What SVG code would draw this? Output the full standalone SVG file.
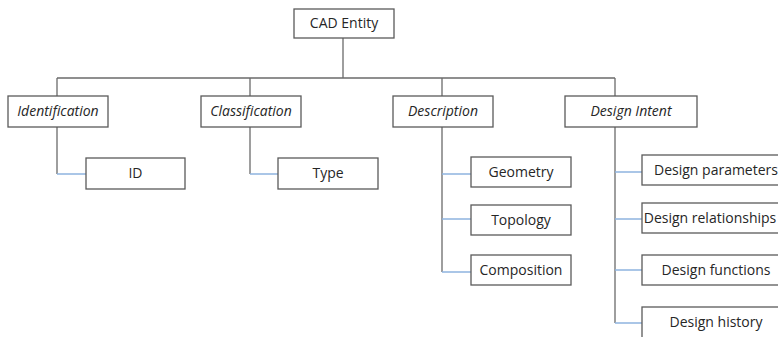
<svg xmlns="http://www.w3.org/2000/svg" width="778" height="337" viewBox="0 0 778 337">
<style>
.box{fill:#fff;stroke:#5a5a5a;stroke-width:1.3}
.t{font-family:"Open Sans","Liberation Sans",sans-serif;font-size:14px;fill:#262626;text-anchor:middle}
.i{font-style:italic}
.ln{fill:none;stroke:#6b6b6b;stroke-width:1.3}
.bl{fill:none;stroke:#8fb4e0;stroke-width:1.3}
</style>
<rect width="778" height="337" fill="#fff"/>
<g id="connectors">
<path class="ln" d="M343 38V78M57 78H615M57 78V96M250 78V96M442 78V96M615 78V97"/>
<path class="ln" d="M57 127V174M250 127V174M442 127V272M615 127V323"/>
<path class="bl" d="M57 174H86M250 174H278M442 174H471M442 219H471M442 272H471M615 172H642M615 219H642M615 270H642M615 323H642"/>
</g>
<g id="cad-entity"><rect class="box" x="294" y="9" width="100" height="29"/><text class="t" x="344" y="28">CAD Entity</text></g>
<g id="identification"><rect class="box" x="8" y="96" width="100" height="31"/><text class="t i" x="58" y="116">Identification</text></g>
<g id="classification"><rect class="box" x="201" y="96" width="100" height="31"/><text class="t i" x="251" y="116">Classification</text></g>
<g id="description"><rect class="box" x="393" y="96" width="100" height="31"/><text class="t i" x="443" y="116">Description</text></g>
<g id="design-intent"><rect class="box" x="565" y="96" width="132" height="31"/><text class="t i" x="631" y="116">Design Intent</text></g>
<g id="id"><rect class="box" x="86" y="158" width="99" height="31"/><text class="t" x="135.5" y="178">ID</text></g>
<g id="type"><rect class="box" x="278" y="158" width="100" height="31"/><text class="t" x="328" y="178">Type</text></g>
<g id="geometry"><rect class="box" x="471" y="157" width="100" height="30"/><text class="t" x="521" y="177">Geometry</text></g>
<g id="topology"><rect class="box" x="471" y="205" width="100" height="30"/><text class="t" x="521" y="225">Topology</text></g>
<g id="composition"><rect class="box" x="471" y="255" width="100" height="30"/><text class="t" x="521" y="275">Composition</text></g>
<g id="design-parameters"><rect class="box" x="642" y="155" width="150" height="30"/><text class="t" x="716" y="175">Design parameters</text></g>
<g id="design-relationships"><rect class="box" x="642" y="203" width="150" height="30"/><text class="t" x="710" y="223" font-size="13">Design relationships</text></g>
<g id="design-functions"><rect class="box" x="642" y="255" width="150" height="30"/><text class="t" x="716" y="275">Design functions</text></g>
<g id="design-history"><rect class="box" x="642" y="307" width="150" height="34"/><text class="t" x="716" y="327">Design history</text></g>
</svg>
